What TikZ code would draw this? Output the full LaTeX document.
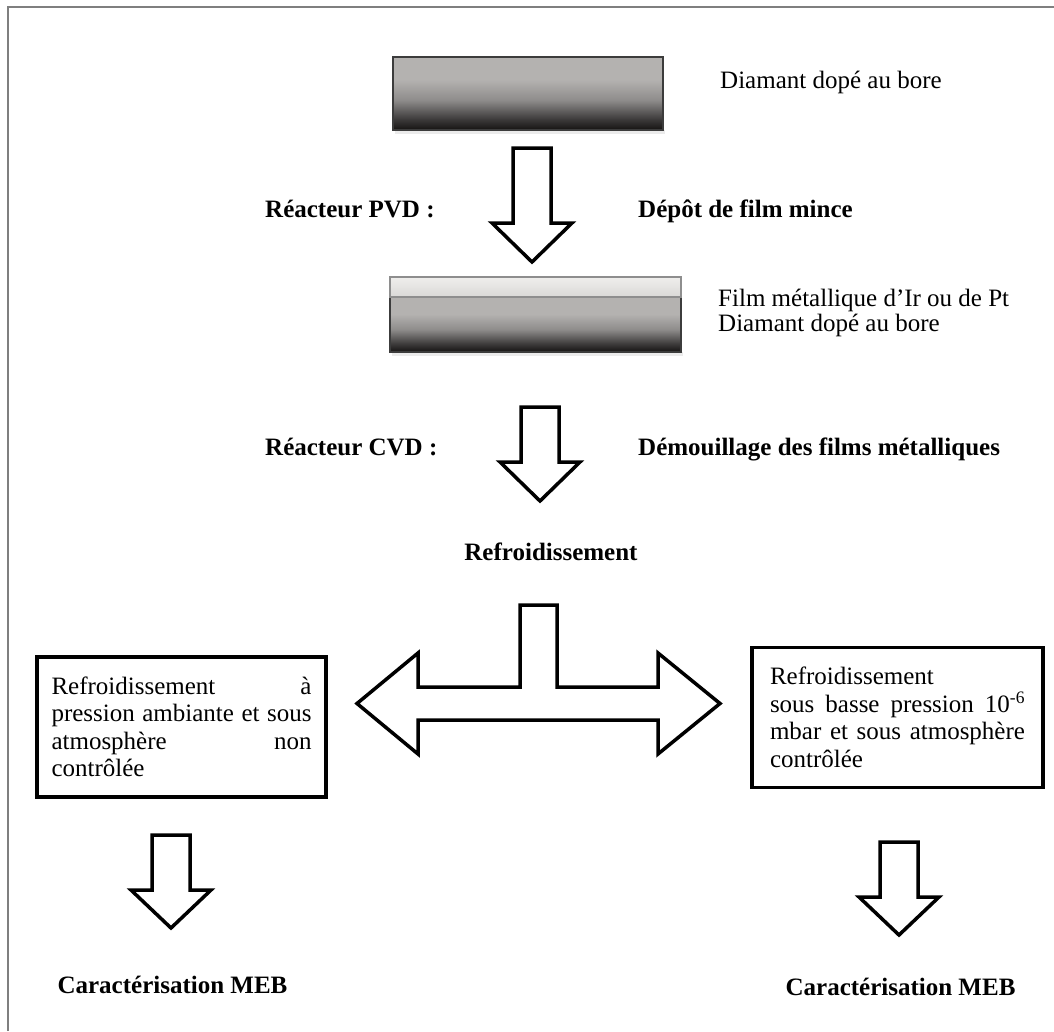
\documentclass[tikz,border=0pt]{standalone}
\usepackage{fontspec}
\setmainfont{Liberation Serif}
\definecolor{cadregris}{HTML}{7F7F7F}
\definecolor{dbas}{HTML}{151312}
\definecolor{dfonce}{HTML}{3A3838}
\definecolor{dmoyen}{HTML}{8E8C8B}
\definecolor{dclair}{HTML}{B4B2B0}
\definecolor{filmh}{HTML}{EFEEEC}
\definecolor{filmb}{HTML}{DAD9D7}
\definecolor{bordsombre}{HTML}{3C3C3C}
\definecolor{bordclair}{HTML}{8E8E8E}
\pgfdeclareverticalshading{diamant}{100bp}{color(0bp)=(dbas); color(25bp)=(dbas); color(32bp)=(dfonce); color(45.5bp)=(dmoyen); color(59.5bp)=(dclair); color(100bp)=(dclair)}
\newcommand{\flechebas}[4]{% axe, haut de la tige, base de la pointe, pointe
  \draw[bloc] ({#1-19},#2) -- ({#1+19},#2) -- ({#1+19},#3) -- ({#1+40},#3) -- (#1,#4) -- ({#1-40},#3) -- ({#1-19},#3) -- cycle;}
\begin{document}
\begin{tikzpicture}[x=1pt,y=-1pt,
    bloc/.style={draw=black, line width=3.5pt, line join=miter, fill=white},
    etiquette/.style={font=\fontsize{25}{27.5}\selectfont\bfseries, inner sep=0pt},
    texte/.style={font=\fontsize{25}{27.5}\selectfont, inner sep=0pt},
    boite/.style={draw=black, line width=3.5pt, font=\fontsize{25}{27.5}\selectfont, align=justify, minimum height=140pt}]
\useasboundingbox (0,0) rectangle (1054,1031);
% cadre
\draw[cadregris, line width=2pt] (8,1031) -- (8,7) -- (1054,7);

% substrat de depart
\fill[black!8] (395,130) rectangle (665,134);
\shadedraw[shading=diamant, draw=bordsombre, line width=1.2pt] (393,57) rectangle (663,130);
\node[texte, anchor=base west] (diamant) at (720,88) {Diamant dopé au bore};

% depot PVD
\flechebas{532}{148}{223}{262}
\node[etiquette, anchor=base west] (pvd) at (265,217) {Réacteur PVD :};
\node[etiquette, anchor=base west] (depot) at (638,217) {Dépôt de film mince};

% substrat avec film
\fill[black!8] (392,352) rectangle (683,356);
\shadedraw[shading=diamant, draw=bordsombre, line width=1.2pt] (390,297) rectangle (681,352);
\shadedraw[top color=filmh, bottom color=filmb, draw=bordclair, line width=1.5pt] (390,277) rectangle (681,297);
\node[texte, anchor=base west] (film) at (718,306) {Film métallique d’Ir ou de Pt};
\node[texte, anchor=base west] (diamantb) at (718,331) {Diamant dopé au bore};

% demouillage CVD
\flechebas{540}{407}{462}{501}
\node[etiquette, anchor=base west] (cvd) at (265,455) {Réacteur CVD :};
\node[etiquette, anchor=base west] (demouil) at (638,455) {Démouillage des films métalliques};

\node[etiquette, anchor=base] (refroid) at (551,560) {Refroidissement};

% fleche en T
\draw[bloc] (520,605) -- (557,605) -- (557,687) -- (658,687) -- (658,653) -- (720,703.5)
  -- (658,754) -- (658,720) -- (418,720) -- (418,754) -- (357,703.5) -- (418,653)
  -- (418,687) -- (520,687) -- cycle;

% deux modes de refroidissement
\node[boite, text width=260pt, inner xsep=14.5pt] (ambiant) at (181.5,727)
  {Refroidissement à\linebreak pression ambiante et sous\linebreak atmosphère non\linebreak contrôlée};
\node[boite, text width=255pt, inner xsep=18pt] (vide) at (897.5,717.5)
  {Refroidissement\newline sous basse pression 10\textsuperscript{-6}\linebreak mbar et sous atmosphère\linebreak contrôlée};

% caracterisation
\flechebas{171}{835}{890}{928}
\flechebas{899}{842}{897}{935}
\node[etiquette, anchor=base] (mebg) at (172.5,993) {Caractérisation MEB};
\node[etiquette, anchor=base] (mebd) at (900.5,995) {Caractérisation MEB};
\end{tikzpicture}
\end{document}
